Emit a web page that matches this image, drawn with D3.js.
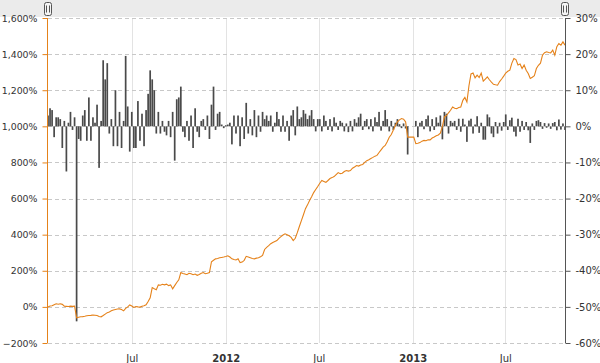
<!DOCTYPE html>
<html><head><meta charset="utf-8">
<script src="https://cdn.jsdelivr.net/npm/d3@7"></script>
<style>
body{margin:0;background:#fff}
svg{display:block}
text{font-family:"DejaVu Sans",Verdana,sans-serif;font-size:10px;fill:#333}
</style>
</head><body><svg id="c" width="600" height="363"></svg>
<script>
// ---- data ----
const startDate = "2011-01-18";
const stepDays = 4;
// periodic return (right axis, %)
const returnBars = [
 3,5,4.5,-3,2.5,2.5,2,-6,1.5,-12.5, 1,4,-1,2.5,-54,-3.5,-4,3,4.5,-4,
 8,-4,2.5,1,6,-11.5,1.5,18.3,13,17.5, -2,2,-5.5,10,-5.5,4,-6,1.5,19.5,5.5,
 -7,4,-6,-6,7,-4,3.5,-5.5,4.5,9, 15.5,13,10,-2,4,-2,1.5,-1.5,-2.5,1.5,
 -3,4,-9.5,7.5,8,11,-1.5,-3,1.5,-4, 3,-6,5,-1.5,-3,1.5,2,-1,3,-3.5,
 6,11,-1,3.5,4,0.5,-0.5,0.3,0.5,1, -5,3,-2,3,-5.5,2.5,-3.5,6.5,-2,2,
 -2.5,4.5,-3,3,-1.5,4,2,3,1.5,3, -1.5,1,4,2,-1.5,3,-1.5,1.5,-4,3,
 4.5,-2.5,5.5,2,2.5,4.5,3.5,2,3,4.5, 2,-1.4,2,2,-1.4,3,1.5,-1,2,-1.4,
 2.5,1,-1,1.5,1,-1.4,0.8,-1.6,1.5,-1.4, 2,1,2.5,3.5,-1,1.5,2,-0.8,2,-1.4,
 2.5,1.2,4,-1.2,1.5,4.5,2,-1.4,1.5,-1, 1,2,0.6,-0.5,0.8,-0.6,-7.8,null,null,null,
 1.5,-3,1,1.5,-0.8,2,3,-1.4,2,-1, 2.5,1,3,-3.6,4,3.5,-2,1.5,1,1.5,
 -1,2.1,-1.5,2.1,0.5,-4.3,1.6,2.1,-2,0.5, 2.8,-1.8,1,-3.7,-3.7,3.3,2.5,-2,-3,1.2,
 -2,1,-1.2,1.2,3.3,-1,1.7,2.4,-1.5,-2.8, 2.1,-1.5,1.5,-1,1.2,-1.1,-4.6,0.8,-1,1.5,
 1.7,1.2,-0.7,0.9,-0.4,0.8,-0.7,0.9,1.2,-1.1, 1.9,-0.9,0.8,-1
];
// cumulative performance (left axis, %)
const cumulative = [
 0,5,6,12,17,15,17,14,4,3, 2,4,3,4,-60,-57,-55,-54,-52,-49,
 -48,-47,-45,-46,-48,-53,-55,-48,-40,-32, -28,-22,-17,-14,-12,-11,-15,-22,-8,0,
 11,5,-3,2,0,-1,4,6,12,30, 50,107,100,95,122,120,125,122,126,118,
 122,100,118,135,150,190,185,182,178,186, 184,178,182,175,180,186,190,184,186,190,
 250,258,266,268,272,274,276,279,283,276, 266,262,260,266,245,248,258,280,276,272,
 268,266,270,272,278,285,318,330,339,350, 357,362,367,380,389,398,405,400,394,385,
 367,380,411,445,478,510,544,565,589,610, 633,650,667,685,700,695,690,700,711,716,
 722,733,744,738,740,750,755,752,755,768, 775,783,780,786,789,800,810,815,822,828,
 835,839,855,870,885,894,915,940,955,980, 1005,1025,1036,1043,1040,1025,940,940,940,940,
 904,906,910,918,922,920,926,925,935,941, 948,952,962,1000,1052,1060,1075,1089,1107,1100,
 1098,1104,1107,1144,1160,1135,1225,1290,1295,1268, 1283,1270,1295,1250,1262,1274,1258,1245,1233,1230,
 1228,1248,1262,1278,1295,1305,1311,1350,1376,1370, 1340,1345,1320,1340,1311,1293,1265,1272,1280,1320,
 1338,1350,1395,1408,1413,1409,1407,1422,1394,1441, 1459,1450,1468,1450
];
const leftTicks = [-200,0,200,400,600,800,1000,1200,1400,1600];
const rightTicks = [-60,-50,-40,-30,-20,-10,0,10,20,30];
const xTickDates = ["2011-07-01","2012-01-01","2012-07-01","2013-01-01","2013-07-01"];
const xTickLabels = ["Jul","2012","Jul","2013","Jul"];

// ---- layout ----
const W = 600, H = 363;
const L = 48, R = 565, T = 18, B = 343;
const lineColor = "#e5821a", barColor = "#4a4a4a";
const FONT = '"DejaVu Sans",Verdana,sans-serif';

const parse = d3.timeParse("%Y-%m-%d");
const t0 = parse(startDate);
const dateAt = i => d3.timeDay.offset(t0, i * stepDays);
const n = cumulative.length;

const x = d3.scaleTime().domain([t0, dateAt(n - 1)]).range([L, R]);
const yL = d3.scaleLinear().domain([-200, 1600]).range([B, T]);
const yR = d3.scaleLinear().domain([-60, 30]).range([B, T]);

const svg = d3.select("#c");

// navigator band at top
svg.append("rect").attr("x", 0).attr("y", 0).attr("width", W).attr("height", 17).attr("fill", "#ebebeb");

// vertical grid
const tickDates = xTickDates.map(parse);
svg.append("g").selectAll("line").data(tickDates).join("line")
  .attr("x1", d => Math.round(x(d)) + 0.5).attr("x2", d => Math.round(x(d)) + 0.5)
  .attr("y1", T).attr("y2", B).attr("stroke", "#e3e3e3").attr("stroke-width", 1);

// horizontal grid (dashed)
svg.append("g").selectAll("line").data(leftTicks).join("line")
  .attr("x1", L).attr("x2", R)
  .attr("y1", d => Math.round(yL(d)) + 0.5).attr("y2", d => Math.round(yL(d)) + 0.5)
  .attr("stroke", "#c8c8c8").attr("stroke-dasharray", "4,3");

// bars
const barData = returnBars.map((v, i) => ({d: dateAt(i), v})).filter(p => p.v !== null);
svg.append("g").selectAll("rect").data(barData).join("rect")
  .attr("x", p => x(p.d) - 0.85)
  .attr("width", 1.7)
  .attr("y", p => Math.min(yR(p.v), yR(0)))
  .attr("height", p => Math.abs(yR(p.v) - yR(0)))
  .attr("fill", barColor);

// line
const lineGen = d3.line().x((v, i) => x(dateAt(i))).y(v => yL(v));
svg.append("path").datum(cumulative).attr("d", lineGen)
  .attr("fill", "none").attr("stroke", lineColor).attr("stroke-width", 1.1);

// left axis
const axL = svg.append("g").attr("transform", `translate(${L - 0.5},0)`)
  .call(d3.axisLeft(yL).tickValues(leftTicks).tickSize(5).tickPadding(5)
    .tickFormat(d => d3.format(",")(d) + "%"));
axL.select(".domain").attr("stroke", lineColor).attr("d", `M0,${T}V${B}`);
axL.selectAll(".tick line").attr("stroke", lineColor);
axL.selectAll("text").attr("fill", "#333").style("font-size", "9.4px").style("font-family", FONT);

// right axis
const axR = svg.append("g").attr("transform", `translate(${R + 0.5},0)`)
  .call(d3.axisRight(yR).tickValues(rightTicks).tickSize(5).tickPadding(5)
    .tickFormat(d => d + "%"));
axR.select(".domain").attr("stroke", "#555").attr("d", `M0,${T}V${B}`);
axR.selectAll(".tick line").attr("stroke", "#555");
axR.selectAll("text").attr("fill", "#333").style("font-size", "10px").style("font-family", FONT);

// bottom axis
const axB = svg.append("g").attr("transform", `translate(0,${B})`)
  .call(d3.axisBottom(x).tickValues(tickDates).tickSize(0).tickPadding(12)
    .tickFormat((d, i) => xTickLabels[i]));
axB.select(".domain").remove();
axB.selectAll("text").attr("fill", "#333").style("font-size", "10px").style("font-family", FONT)
  .style("font-weight", (d, i) => /^\d{4}$/.test(xTickLabels[i]) ? "bold" : "normal");

// navigator handles
[L, R].forEach(hx => {
  const g = svg.append("g").attr("transform", `translate(${hx},0)`);
  g.append("rect").attr("x", -3.5).attr("y", 2.5).attr("width", 7).attr("height", 13).attr("rx", 2)
    .attr("fill", "#f4f4f4").attr("stroke", "#555");
  g.append("line").attr("x1", -1.5).attr("x2", -1.5).attr("y1", 5.5).attr("y2", 12.5).attr("stroke", "#555");
  g.append("line").attr("x1", 1.5).attr("x2", 1.5).attr("y1", 5.5).attr("y2", 12.5).attr("stroke", "#555");
});
</script>
</body></html>
